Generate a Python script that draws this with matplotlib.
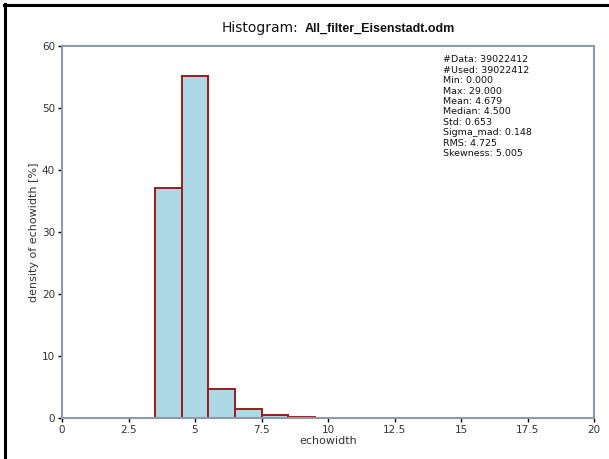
import numpy as np
import matplotlib.pyplot as plt
from matplotlib.lines import Line2D

# histogram bins (width 1) and density in percent
bin_left = [3.5, 4.5, 5.5, 6.5, 7.5, 8.5, 9.5]
density = [37.1, 55.2, 4.7, 1.45, 0.55, 0.15, 0.05]

xticks = [0, 2.5, 5, 7.5, 10, 12.5, 15, 17.5, 20]
xticklabels = ['0', '2.5', '5', '7.5', '10', '12.5', '15', '17.5', '20']
yticks = [0, 10, 20, 30, 40, 50, 60]

stats = ['#Data: 39022412', '#Used: 39022412', 'Min: 0.000', 'Max: 29.000',
         'Mean: 4.679', 'Median: 4.500', 'Std: 0.653', 'Sigma_mad: 0.148',
         'RMS: 4.725', 'Skewness: 5.005']

fig = plt.figure(figsize=(6.09, 4.59), dpi=100)
ax = fig.add_axes([62/609, 1 - 418/459, (594 - 62)/609, (418 - 46)/459])

ax.bar(bin_left, density, width=1.0, align='edge', color='#add8e6',
       edgecolor='#9a1c1c', linewidth=1.4)

ax.set_xlim(0, 20)
ax.set_ylim(0, 60)
ax.set_xticks(xticks)
ax.set_xticklabels(xticklabels)
ax.set_yticks(yticks)
ax.tick_params(axis='both', direction='out', length=3, width=1, colors='black',
               labelcolor='#333333', labelsize=7.5, pad=2)
for s in ax.spines.values():
    s.set_color('#8c9bab')
    s.set_linewidth(1.5)

ax.set_xlabel('echowidth', fontsize=8, color='#333333', labelpad=1)
ax.set_ylabel('density of echowidth [%]', fontsize=8, color='#333333', labelpad=2)

ax.text(0.717, 0.975, '\n'.join(stats), transform=ax.transAxes, fontsize=6.8,
        va='top', ha='left', color='#111111', linespacing=1.2)

fig.text(222/609, 1 - 28/459, 'Histogram:', fontsize=10, va='center', ha='left',
         color='#111111')
fig.text(305/609, 1 - 29/459, 'All_filter_Eisenstadt.odm', fontsize=9,
         fontweight='bold', family='Liberation Sans', va='center', ha='left',
         color='#111111')

# screenshot frame lines on top and left
fig.add_artist(Line2D([4/609, 1], [1 - 5/459, 1 - 5/459], color='black',
                      linewidth=2.2, transform=fig.transFigure))
fig.add_artist(Line2D([5/609, 5/609], [0, 1 - 4/459], color='black',
                      linewidth=2.2, transform=fig.transFigure))

fig.savefig('out.png', dpi=100)
